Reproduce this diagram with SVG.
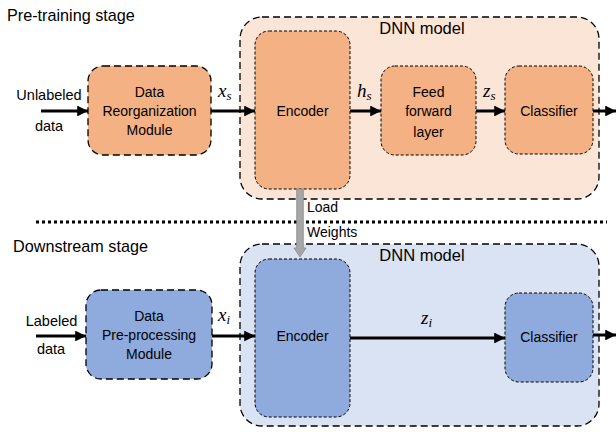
<svg xmlns="http://www.w3.org/2000/svg" width="616" height="432" viewBox="0 0 616 432">
<defs>
<style>
text{font-family:"Liberation Sans",Arial,sans-serif;fill:#000}
.lbl{font-size:14px;text-anchor:middle}
.stage{font-size:16.2px}
.math{font-family:"Liberation Serif","DejaVu Serif",serif;font-style:italic;font-size:19px}
.sub{font-size:13px}
.outerO{fill:#FBE5D6;stroke:#000;stroke-width:1.3;stroke-dasharray:7 4}
.outerB{fill:#DAE3F3;stroke:#000;stroke-width:1.3;stroke-dasharray:7 4}
.modO{fill:#F4B183;stroke:#000;stroke-width:1.3;stroke-dasharray:7 4}
.modB{fill:#8FAADC;stroke:#000;stroke-width:1.3;stroke-dasharray:7 4}
.inO{fill:#F4B183;stroke:#000;stroke-width:1;stroke-dasharray:3 2}
.inB{fill:#8FAADC;stroke:#000;stroke-width:1;stroke-dasharray:3 2}
.arr{stroke:#000;stroke-width:3;fill:none;marker-end:url(#ah)}
</style>
<marker id="ah" viewBox="0 0 10 10" refX="10" refY="5" markerWidth="3.6" markerHeight="3.6" orient="auto" markerUnits="strokeWidth">
<path d="M0,0 L10,5 L0,10 z" fill="#000"/>
</marker>
</defs>

<text class="stage" x="7" y="21">Pre-training stage</text>
<text class="stage" x="13" y="252">Downstream stage</text>

<g id="dnn-top">
<rect class="outerO" x="240" y="17" width="359" height="182" rx="22"/>
<text class="lbl" x="422" y="34" style="font-size:16.5px">DNN model</text>
</g>
<g id="dnn-bottom">
<rect class="outerB" x="240" y="244" width="359" height="182" rx="22"/>
<text class="lbl" x="422" y="261" style="font-size:16.5px">DNN model</text>
</g>

<g id="data-reorg">
<rect class="modO" x="88" y="66" width="123" height="89" rx="15"/>
<text class="lbl" x="149.5" y="97">Data</text>
<text class="lbl" x="149.5" y="116">Reorganization</text>
<text class="lbl" x="149.5" y="135">Module</text>
</g>
<g id="encoder-top">
<rect class="inO" x="255" y="31" width="95" height="158" rx="14"/>
<text class="lbl" x="302.5" y="116">Encoder</text>
</g>
<g id="ffl">
<rect class="inO" x="381" y="66" width="95" height="89" rx="14"/>
<text class="lbl" x="428.5" y="97">Feed</text>
<text class="lbl" x="428.5" y="116">forward</text>
<text class="lbl" x="428.5" y="137">layer</text>
</g>
<g id="classifier-top">
<rect class="inO" x="505" y="66" width="88" height="88" rx="14"/>
<text class="lbl" x="549" y="116">Classifier</text>
</g>

<g id="data-preproc">
<rect class="modB" x="86" y="290" width="126" height="89" rx="15"/>
<text class="lbl" x="149" y="321">Data</text>
<text class="lbl" x="149" y="340">Pre-processing</text>
<text class="lbl" x="149" y="359">Module</text>
</g>
<g id="encoder-bottom">
<rect class="inB" x="255" y="259" width="95" height="158" rx="14"/>
<text class="lbl" x="302.5" y="341">Encoder</text>
</g>
<g id="classifier-bottom">
<rect class="inB" x="505" y="293" width="88" height="89" rx="14"/>
<text class="lbl" x="549" y="342">Classifier</text>
</g>

<g id="connectors">
<line x1="36" y1="222" x2="607" y2="222" stroke="#000" stroke-width="3" stroke-dasharray="3 3"/>
<path d="M41,111 H88" class="arr"/>
<path d="M211,111 H255" class="arr"/>
<path d="M350,111 H381" class="arr"/>
<path d="M476,111 H505" class="arr"/>
<path d="M593,111 H616" class="arr"/>
<path d="M36,336 H86" class="arr"/>
<path d="M212,336 H255" class="arr"/>
<path d="M350,338 H505" class="arr"/>
<path d="M593,335 H616" class="arr"/>
<path d="M296.7,189 V248 H294 L300,257 L306,248 H303.3 V189 Z" fill="#A6A6A6" stroke="#8C8C8C" stroke-width="0.8"/>
</g>

<g id="labels">
<text class="lbl" x="49" y="100" style="font-size:14.5px">Unlabeled</text>
<text class="lbl" x="49" y="131" style="font-size:14.5px">data</text>
<text class="lbl" x="51.5" y="326" style="font-size:14.5px">Labeled</text>
<text class="lbl" x="51" y="354" style="font-size:14.5px">data</text>
<text x="307" y="212" style="font-size:14px">Load</text>
<text x="307" y="237" style="font-size:14px">Weights</text>
<text class="math" x="218" y="97">x<tspan class="sub" dy="3">s</tspan></text>
<text class="math" x="357" y="97">h<tspan class="sub" dy="3">s</tspan></text>
<text class="math" x="483" y="97">z<tspan class="sub" dy="3">s</tspan></text>
<text class="math" x="218" y="321">x<tspan class="sub" dy="3">i</tspan></text>
<text class="math" x="421" y="324">z<tspan class="sub" dy="3">i</tspan></text>
</g>
</svg>
